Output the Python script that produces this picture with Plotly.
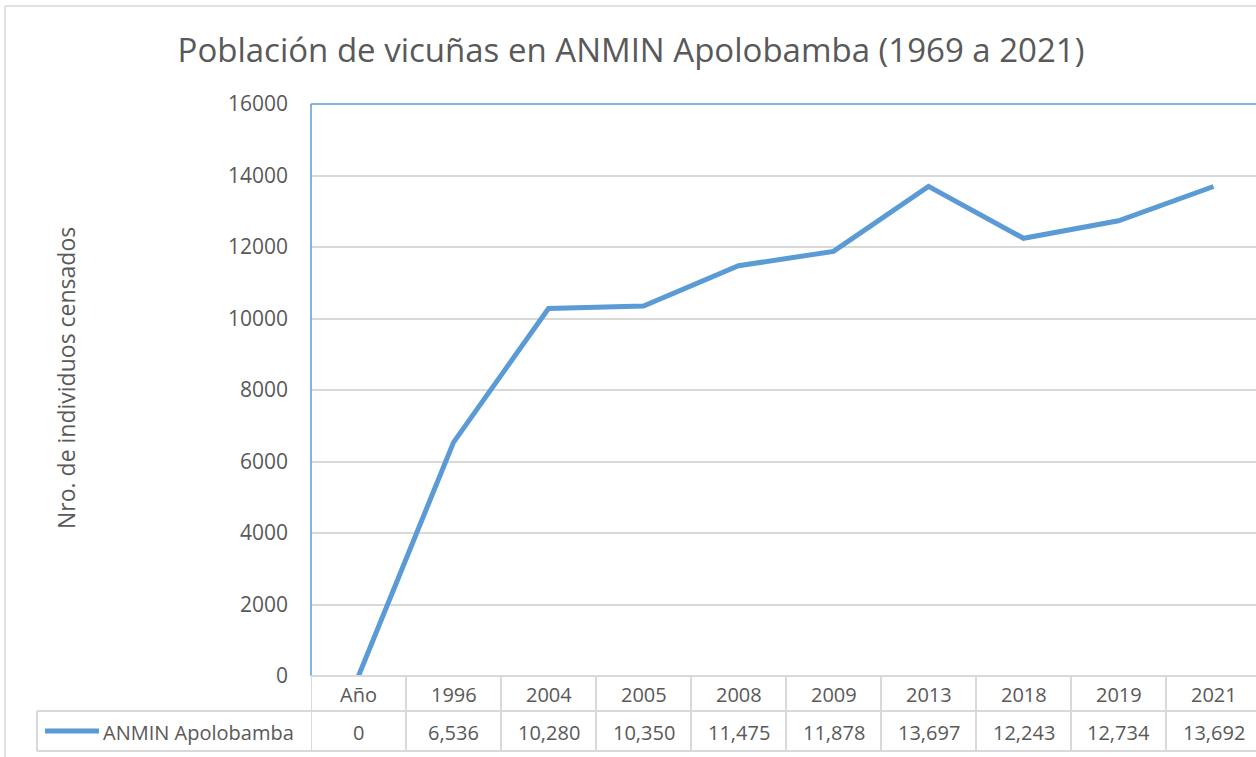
import plotly.graph_objs as go

# data
years = ["Año", "1996", "2004", "2005", "2008", "2009", "2013", "2018", "2019", "2021"]
individuals = [0, 6536, 10280, 10350, 11475, 11878, 13697, 12243, 12734, 13692]
series_name = "ANMIN Apolobamba"

BLUE = "#5b9bd5"
GRID = "#d9d9d9"
TEXT = "#595959"
FONT = "Open Sans"

W, H = 1256, 757
L, T, B = 311, 104, 81
PW, PH = W - L, H - T - B


def px_x(px):
    return (px - L) / PW


def px_y(py):
    return (H - B - py) / PH


line = go.Scatter(
    x=list(range(len(years))),
    y=individuals,
    name=series_name,
    mode='lines',
    line=dict(color=BLUE, width=5),
    showlegend=False
)

shapes = []
annotations = []

# outer chart border
shapes.append(dict(type='line', xref='paper', yref='paper', x0=px_x(5), x1=px_x(W + 10),
                   y0=px_y(6), y1=px_y(6), line=dict(color=GRID, width=1.5)))
shapes.append(dict(type='line', xref='paper', yref='paper', x0=px_x(5), x1=px_x(5),
                   y0=px_y(6), y1=px_y(H + 10), line=dict(color=GRID, width=1.5)))

# plot area border (left and top)
shapes.append(dict(type='line', xref='paper', yref='paper', x0=0, x1=1, y0=1, y1=1,
                   line=dict(color=BLUE, width=1.5)))
shapes.append(dict(type='line', xref='paper', yref='paper', x0=0, x1=0, y0=0, y1=1,
                   line=dict(color=BLUE, width=1.5)))

# data table
row_top, row_mid, row_bot = px_y(676), px_y(711), px_y(751)
shapes.append(dict(type='line', xref='paper', yref='paper', x0=0, x1=1.01,
                   y0=row_top, y1=row_top, line=dict(color=GRID, width=2)))
for yy in (row_mid, row_bot):
    shapes.append(dict(type='line', xref='paper', yref='paper', x0=px_x(37), x1=1.01,
                       y0=yy, y1=yy, line=dict(color=GRID, width=2)))
shapes.append(dict(type='line', xref='paper', yref='paper', x0=px_x(37), x1=px_x(37),
                   y0=row_mid, y1=row_bot, line=dict(color=GRID, width=2)))
for i in range(len(years)):
    shapes.append(dict(type='line', xref='x', yref='paper', x0=i - 0.5, x1=i - 0.5,
                       y0=row_top, y1=row_bot, line=dict(color=GRID, width=2)))

for i, (yr, val) in enumerate(zip(years, individuals)):
    annotations.append(dict(x=i, y=px_y(694), xref='x', yref='paper',
                            xanchor='center', yanchor='middle',
                            text=yr, showarrow=False, font=dict(size=20, color=TEXT)))
    annotations.append(dict(x=i, y=px_y(732), xref='x', yref='paper',
                            xanchor='center', yanchor='middle',
                            text='{:,}'.format(val), showarrow=False,
                            font=dict(size=20, color=TEXT)))

# legend key inside table
shapes.append(dict(type='line', xref='paper', yref='paper', x0=px_x(45), x1=px_x(99),
                   y0=px_y(731), y1=px_y(731), line=dict(color=BLUE, width=5)))
annotations.append(dict(x=px_x(101), y=px_y(732), xref='paper', yref='paper',
                        xanchor='left', yanchor='middle', text=series_name, showarrow=False,
                        font=dict(size=20, color=TEXT)))

# y axis title
annotations.append(dict(x=px_x(66), y=px_y(378), xref='paper', yref='paper',
                        xanchor='center', yanchor='middle',
                        text='Nro. de individuos censados', textangle=-90, showarrow=False,
                        font=dict(size=23, color=TEXT)))

fig = go.Figure(data=[line])
fig.update_layout(
    width=W, height=H,
    margin=dict(l=L, r=0, t=T, b=B),
    paper_bgcolor='white',
    plot_bgcolor='white',
    font=dict(family=FONT, color=TEXT),
    title=dict(text='Población de vicuñas en ANMIN Apolobamba (1969 a 2021)',
               x=631 / W, y=1 - 50 / H, xanchor='center', yanchor='middle',
               font=dict(size=33, color=TEXT, family=FONT)),
    xaxis=dict(range=[-0.5, -0.5 + PW / 95.0], showticklabels=False,
               showgrid=False, zeroline=False, showline=False, fixedrange=True),
    yaxis=dict(range=[0, 16000], dtick=2000, showgrid=True, gridcolor=GRID, gridwidth=1.5,
               zeroline=False, showline=False, tickformat='d',
               ticklabelstandoff=22, tickfont=dict(size=21, color=TEXT)),
    shapes=shapes,
    annotations=annotations,
)

fig.write_html("out.html", config={'displayModeBar': False},
               post_script="document.body.style.margin='0';")
